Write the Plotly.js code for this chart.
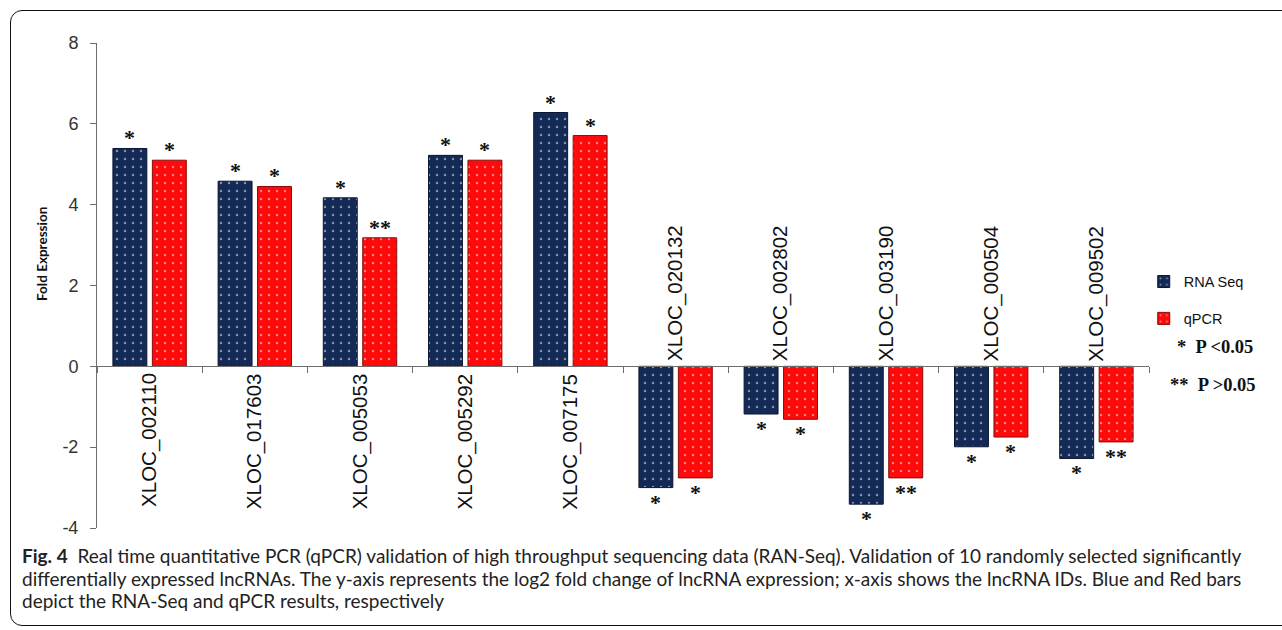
<!DOCTYPE html>
<html>
<head>
<meta charset="utf-8">
<script src="https://cdn.plot.ly/plotly-3.0.1.min.js"></script>
<style>
  html, body { margin: 0; padding: 0; background: #fff; }
  #wrap { position: relative; width: 1282px; height: 630px; overflow: hidden; }
  #chart { position: absolute; left: 0; top: 0; width: 1282px; height: 630px; }
  #frame { position: absolute; left: 10px; top: 10px; width: 1300px; height: 616px;
           border: 1.3px solid #111; border-radius: 12px; pointer-events: none; box-sizing: border-box; }
</style>
</head>
<body>
<div id="wrap">
  <div id="chart"></div>
  <div id="frame"></div>
</div>
<script>
// ---- data ----
const categories = ['XLOC_002110', 'XLOC_017603', 'XLOC_005053', 'XLOC_005292', 'XLOC_007175',
                    'XLOC_020132', 'XLOC_002802', 'XLOC_003190', 'XLOC_000504', 'XLOC_009502'];
const rnaSeq = [5.39, 4.58, 4.17, 5.22, 6.28, -3.00, -1.18, -3.41, -1.99, -2.28];
const qpcr   = [5.10, 4.45, 3.18, 5.10, 5.71, -2.76, -1.31, -2.76, -1.75, -1.87];
const rnaStars  = ['*', '*', '*', '*', '*', '*', '*', '*', '*', '*'];
const qpcrStars = ['*', '*', '**', '*', '*', '*', '*', '**', '*', '**'];
const yTicks = [-4, -2, 0, 2, 4, 6, 8];
const yTitle = 'Fold Expression';
const legendNotes = ['*&nbsp;&nbsp;P &lt;0.05', '**&nbsp;&nbsp;P &gt;0.05'];
const captionLines = [
  '<b>Fig. 4</b>&nbsp; Real time quantitative PCR (qPCR) validation of high throughput sequencing data (RAN-Seq). Validation of 10 randomly selected significantly',
  'differentially expressed lncRNAs. The y-axis represents the log2 fold change of lncRNA expression; x-axis shows the lncRNA IDs. Blue and Red bars',
  'depict the RNA-Seq and qPCR results, respectively'
];

// ---- style ----
const NAVY = '#132a57';
const RED = '#ff0a0a';
const bargap = 0.25;
const yMin = -4, yMax = 8;

const traces = [
  {
    type: 'bar', name: 'RNA Seq', x: categories, y: rnaSeq, legendgroup: 'a',
    marker: { color: NAVY, line: { color: '#0b1630', width: 1 },
              pattern: { shape: '.', fillmode: 'overlay', bgcolor: NAVY, fgcolor: '#ffffff', size: 8, solidity: 0.07 } },
    hoverinfo: 'x+y'
  },
  {
    type: 'bar', name: 'qPCR', x: categories, y: qpcr, legendgroup: 'b',
    marker: { color: RED, line: { color: '#8a0a0a', width: 1 },
              pattern: { shape: '.', fillmode: 'overlay', bgcolor: RED, fgcolor: '#ffffff', size: 8, solidity: 0.07 } },
    hoverinfo: 'x+y'
  }
];

const annotations = [];
const off = (1 - bargap) / 4;
categories.forEach((c, i) => {
  const neg = rnaSeq[i] < 0;
  annotations.push({
    x: i, y: 0, xref: 'x', yref: 'y', text: c, showarrow: false, textangle: -90,
    yanchor: neg ? 'bottom' : 'top', yshift: neg ? 3 : -5,
    font: { family: 'Liberation Sans, Arial, sans-serif', size: 20.5, color: '#111' }
  });
  [[rnaSeq, rnaStars, -off], [qpcr, qpcrStars, off]].forEach(([vals, st, dx]) => {
    const v = vals[i];
    annotations.push({
      x: i + dx, y: v, xref: 'x', yref: 'y', text: '<b>' + st[i] + '</b>', showarrow: false,
      yanchor: v >= 0 ? 'bottom' : 'top', yshift: v >= 0 ? -4 : 0,
      font: { family: 'Liberation Serif, Times New Roman, serif', size: 22, color: '#111' }
    });
  });
});

// y-axis title
annotations.push({
  xref: 'paper', yref: 'paper', x: -0.0523, y: 0.565, xanchor: 'center', yanchor: 'middle',
  text: '<b>' + yTitle + '</b>', showarrow: false, textangle: -90,
  font: { family: 'Lato, Liberation Sans, Arial, sans-serif', size: 13.5, color: '#111' }
});

// legend notes
[[1.0247, 0.373, legendNotes[0]], [1.018, 0.295, legendNotes[1]]].forEach(([xx, yy, t]) => {
  annotations.push({
    xref: 'paper', yref: 'paper', x: xx, y: yy, xanchor: 'left', yanchor: 'middle',
    text: '<b>' + t + '</b>', showarrow: false,
    font: { family: 'Liberation Serif, Times New Roman, serif', size: 18.5, color: '#111' }
  });
});

// caption
const capY = [-0.0557, -0.1031, -0.1505];
captionLines.forEach((t, k) => {
  annotations.push({
    xref: 'paper', yref: 'paper', x: -0.0732, y: capY[k], xanchor: 'left', yanchor: 'middle',
    text: t, showarrow: false, align: 'left',
    font: { family: 'Lato, Open Sans, sans-serif', size: 19, color: '#222' }
  });
});

const layout = {
  width: 1282, height: 630,
  margin: { l: 97, r: 133, t: 43, b: 102, pad: 0 },
  paper_bgcolor: 'rgba(0,0,0,0)', plot_bgcolor: 'rgba(0,0,0,0)',
  barmode: 'group', bargap: bargap, bargroupgap: 0.14,
  showlegend: true,
  legend: {
    x: 0.995, y: 0.541, xanchor: 'left', yanchor: 'top',
    font: { family: 'Liberation Sans, Arial, sans-serif', size: 14.5, color: '#111' },
    tracegroupgap: 15, itemwidth: 30, bgcolor: 'rgba(0,0,0,0)'
  },
  xaxis: {
    type: 'category', range: [-0.5, categories.length - 0.5],
    anchor: 'free', position: (0 - yMin) / (yMax - yMin),
    showline: true, linecolor: '#6e6e6e', linewidth: 1,
    ticks: 'outside', tickson: 'boundaries', ticklen: 6, tickcolor: '#6e6e6e',
    showticklabels: false, showgrid: false, zeroline: false, fixedrange: true
  },
  yaxis: {
    range: [yMin, yMax], tickvals: yTicks, ticktext: yTicks.map(String),
    showline: true, linecolor: '#6e6e6e', linewidth: 1,
    ticks: 'outside', ticklen: 6, tickcolor: '#6e6e6e', ticklabelstandoff: 8,
    showgrid: false, zeroline: false, fixedrange: true,
    tickfont: { family: 'Liberation Sans, Arial, sans-serif', size: 18, color: '#333' }
  },
  annotations: annotations
};

Plotly.newPlot('chart', traces, layout, { displayModeBar: false, staticPlot: true });
</script>
</body>
</html>
